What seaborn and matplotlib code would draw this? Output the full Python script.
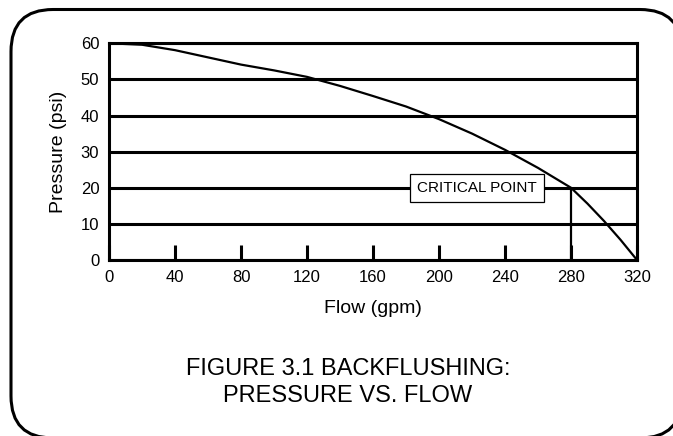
import matplotlib
matplotlib.use('Agg')
import matplotlib.pyplot as plt
import seaborn as sns
from matplotlib.patches import FancyBboxPatch
from matplotlib.transforms import IdentityTransform

# Curva de retrolavagem: pressão x vazão
flow_gpm = [0, 20, 40, 60, 80, 100, 120, 140, 160, 180, 200, 220, 240, 260, 280, 290, 300, 310, 320]
pressure_psi = [60, 59.6, 58.1, 56.1, 54.1, 52.5, 50.7, 48.2, 45.4, 42.5, 39.0, 35.0, 30.5, 25.5, 20.0, 15.6, 10.8, 5.6, 0]

x_ticks = [0, 40, 80, 120, 160, 200, 240, 280, 320]
y_ticks = [0, 10, 20, 30, 40, 50, 60]
critical_flow = 280
critical_pressure = 20
label_flow = 223

sns.set_style('white')
plt.rcParams['font.family'] = ['Liberation Sans', 'DejaVu Sans']
plt.rcParams['text.color'] = 'black'
plt.rcParams['axes.labelcolor'] = 'black'
plt.rcParams['xtick.color'] = 'black'
plt.rcParams['ytick.color'] = 'black'

fig = plt.figure(figsize=(6.73, 4.36), dpi=100)
ax = fig.add_axes([0.162, 0.4037, 0.7845, 0.497])

sns.lineplot(x=flow_gpm, y=pressure_psi, ax=ax, color='black', linewidth=1.6, zorder=4)

# linha vertical do ponto crítico
ax.plot([critical_flow, critical_flow], [0, critical_pressure], color='black', linewidth=1.6, zorder=4)
ax.text(label_flow, critical_pressure, 'CRITICAL POINT', ha='center', va='center', fontsize=11,
        zorder=5, bbox=dict(boxstyle='square,pad=0.45', facecolor='white', edgecolor='black', linewidth=0.9))

ax.set_xlim(0, 320)
ax.set_ylim(0, 60)
ax.set_xticks(x_ticks)
ax.set_yticks(y_ticks)
ax.yaxis.grid(True, color='black', linewidth=2.2)
ax.xaxis.grid(False)
ax.tick_params(axis='x', bottom=True, direction='in', length=11, width=2.2, color='black',
               labelsize=12, pad=7)
ax.tick_params(axis='y', left=False, length=0, labelsize=12, pad=7)
for s in ax.spines.values():
    s.set_color('black')
    s.set_linewidth(2.2)
ax.set_xlabel('Flow (gpm)', fontsize=14, labelpad=11)
ax.set_ylabel('Pressure (psi)', fontsize=14, labelpad=10)

fig.text(0.517, 0.140, 'FIGURE 3.1 BACKFLUSHING:', ha='center', va='baseline', fontsize=17)
fig.text(0.517, 0.078, 'PRESSURE VS. FLOW', ha='center', va='baseline', fontsize=17)

# moldura arredondada (em pixels), sai da figura à direita e embaixo.
# face branca para o Agg não recortar o contorno na borda da imagem
border = FancyBboxPatch((11, -2), 671, 428.5, boxstyle='round,pad=0,rounding_size=42',
                        transform=IdentityTransform(), facecolor='white', edgecolor='black',
                        linewidth=2.2, clip_on=False, zorder=-1)
border.set_in_layout(False)
fig.patches.append(border)

fig.savefig('out.png', dpi=100)
